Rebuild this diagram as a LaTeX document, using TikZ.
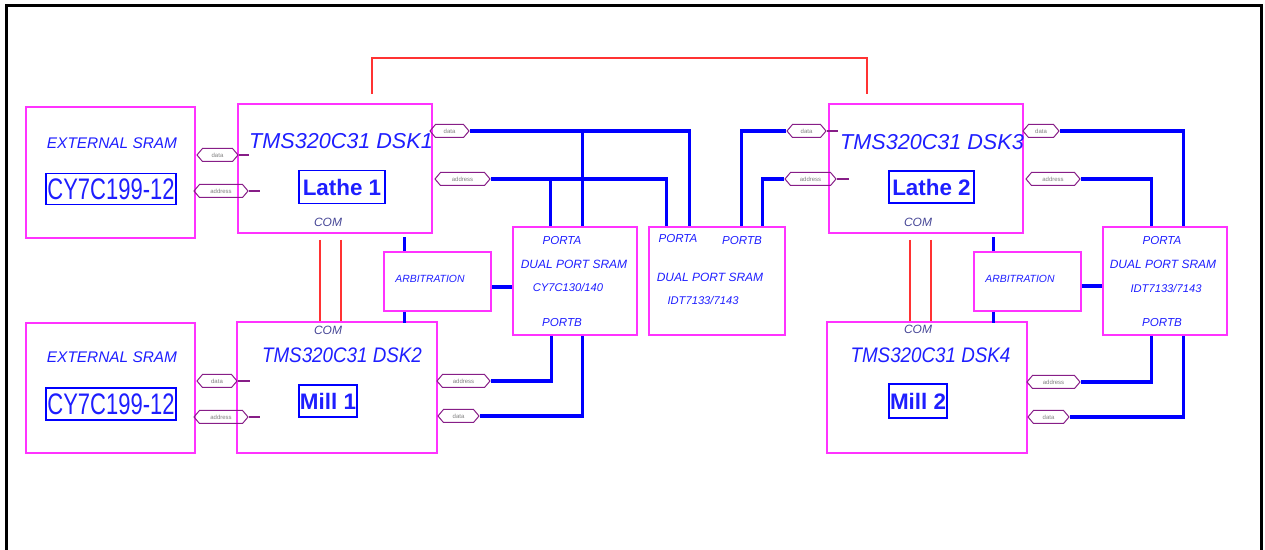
\documentclass[tikz,border=0pt]{standalone}
\usepackage{fontspec}
\setmainfont{Liberation Sans}
\usetikzlibrary{shapes.symbols,calc}
\definecolor{rosa}{RGB}{255,51,255}
\definecolor{azul}{RGB}{0,0,255}
\definecolor{azultx}{RGB}{30,30,255}
\definecolor{morado}{RGB}{135,30,135}
\definecolor{rojo}{RGB}{255,50,50}
\definecolor{gristx}{RGB}{70,70,150}
\newcommand{\fs}[1]{\fontsize{#1}{#1}\selectfont}
\begin{document}
\begin{tikzpicture}[x=0.5pt,y=-0.5pt,
	caja/.style={draw=rosa,line width=0.8pt,inner sep=0pt},
	texto/.style={text=azultx,inner sep=0pt},
	marco/.style={draw=azul,line width=0.7pt,text=azultx,inner sep=0pt},
	puerto/.style={text=azultx,inner sep=0pt,font=\fs{5.8}\itshape},
	comtx/.style={text=gristx,inner sep=0pt,font=\fs{6}\itshape},
	etiq/.style={shape=signal,signal to=west and east,signal pointer angle=100,draw=morado,line width=0.5pt,inner sep=0pt,minimum height=6.5pt,text=gray,font=\fs{3}},
	stub/.style={morado,line width=0.6pt},
	bus/.style={azul,line width=1.65pt},
	enlace/.style={rojo,line width=0.8pt}]
	\useasboundingbox (0,0) rectangle (1265,550);
	%Marco
	\draw[line width=1.5pt] (6.5,550) -- (6.5,6) -- (1261,6) -- (1261,550);
	
	%Memorias externas
	\node[caja,minimum width=84.5pt,minimum height=65.5pt] (sramA) at (110.5,172.5) {};
	\node[texto,font=\fs{7.7}\itshape] (sramAt) at (112,143) {EXTERNAL SRAM};
	\node[marco,font=\fs{11},minimum width=65pt,minimum height=15.5pt] (sramAc) at (111,189) {\scalebox{1}[1.35]{CY7C199-12}};
	\node[caja,minimum width=84.5pt,minimum height=65pt] (sramB) at (110.5,388) {};
	\node[texto,font=\fs{7.7}\itshape] (sramBt) at (112,357) {EXTERNAL SRAM};
	\node[marco,font=\fs{11},minimum width=65pt,minimum height=16pt] (sramBc) at (111,404) {\scalebox{1}[1.35]{CY7C199-12}};
	
	%Tarjetas DSK
	\node[caja,minimum width=97pt,minimum height=64.5pt] (dskA) at (335,168.5) {};
	\node[texto,font=\fs{10.8}\itshape] (dskAt) at (341,141) {TMS320C31 DSK1};
	\node[marco,font=\fs{11.2}\bfseries,minimum width=43pt,minimum height=16.5pt] (dskAn) at (342,187) {Lathe 1};
	\node[comtx] (dskAc) at (328,222) {COM};
	\node[caja,minimum width=100pt,minimum height=65.5pt] (dskB) at (337,387.5) {};
	\node[comtx] (dskBc) at (328,330) {COM};
	\node[texto,font=\fs{9.4}\itshape] (dskBt) at (342,355) {\scalebox{1}[1.12]{TMS320C31 DSK2}};
	\node[marco,font=\fs{11.2}\bfseries,minimum width=29pt,minimum height=16pt] (dskBn) at (328,401) {Mill 1};
	\node[caja,minimum width=97pt,minimum height=64.5pt] (dskC) at (926,168.5) {};
	\node[texto,font=\fs{10.8}\itshape] (dskCt) at (932,142) {TMS320C31 DSK3};
	\node[marco,font=\fs{11.2}\bfseries,minimum width=42.5pt,minimum height=16pt] (dskCn) at (931.5,187) {Lathe 2};
	\node[comtx] (dskCc) at (918,222) {COM};
	\node[caja,minimum width=100pt,minimum height=65.5pt] (dskD) at (927,387.5) {};
	\node[comtx] (dskDc) at (918,329) {COM};
	\node[texto,font=\fs{9.4}\itshape] (dskDt) at (930.5,355) {\scalebox{1}[1.12]{TMS320C31 DSK4}};
	\node[marco,font=\fs{11.2}\bfseries,minimum width=29pt,minimum height=17pt] (dskDn) at (918,401) {Mill 2};
	
	%Arbitraje
	\node[caja,minimum width=53.5pt,minimum height=29.5pt] (arbA) at (437.5,281.5) {};
	\node[texto,font=\fs{5.2}\itshape] (arbAt) at (430,279) {ARBITRATION};
	\node[caja,minimum width=53.5pt,minimum height=29.5pt] (arbB) at (1027.5,281.5) {};
	\node[texto,font=\fs{5.2}\itshape] (arbBt) at (1020,279) {ARBITRATION};
	
	%Memorias de doble puerto
	\node[caja,minimum width=62pt,minimum height=54pt] (dpA) at (575,281) {};
	\node[puerto] (dpApa) at (562,241) {PORTA};
	\node[puerto,font=\fs{6}\itshape] (dpAt) at (574,264) {DUAL PORT SRAM};
	\node[puerto,font=\fs{5.6}\itshape] (dpAm) at (568,288) {CY7C130/140};
	\node[puerto] (dpApb) at (562,323) {PORTB};
	\node[caja,minimum width=68pt,minimum height=54pt] (dpM) at (717,281) {};
	\node[puerto] (dpMpa) at (678,239) {PORTA};
	\node[puerto] (dpMpb) at (742,241) {PORTB};
	\node[puerto,font=\fs{6}\itshape] (dpMt) at (710,277) {DUAL PORT SRAM};
	\node[puerto,font=\fs{5.6}\itshape] (dpMm) at (703,300) {IDT7133/7143};
	\node[caja,minimum width=62pt,minimum height=54pt] (dpB) at (1165,281) {};
	\node[puerto] (dpBpa) at (1162,241) {PORTA};
	\node[puerto,font=\fs{6}\itshape] (dpBt) at (1163,264) {DUAL PORT SRAM};
	\node[puerto,font=\fs{5.6}\itshape] (dpBm) at (1166,289) {IDT7133/7143};
	\node[puerto] (dpBpb) at (1162,323) {PORTB};
	
	%Etiquetas de senales
	\node[etiq,minimum width=20.5pt] (dAl) at (217.5,155) {data};
	\node[etiq,minimum width=27pt] (aAl) at (221,191) {address};
	\node[etiq,minimum width=19.5pt] (dAr) at (449.5,131) {data};
	\node[etiq,minimum width=27.5pt] (aAr) at (462.5,179) {address};
	\node[etiq,minimum width=20pt] (dBl) at (217,381) {data};
	\node[etiq,minimum width=27pt] (aBl) at (221,417) {address};
	\node[etiq,minimum width=26.5pt] (aBr) at (463.5,381) {address};
	\node[etiq,minimum width=20.5pt] (dBr) at (458.5,416) {data};
	\node[etiq,minimum width=19.5pt] (dCl) at (806.5,131) {data};
	\node[etiq,minimum width=25.5pt] (aCl) at (810.5,179) {address};
	\node[etiq,minimum width=18pt] (dCr) at (1041,131) {data};
	\node[etiq,minimum width=27pt] (aCr) at (1053,179) {address};
	\node[etiq,minimum width=26.5pt] (aDr) at (1053.5,382) {address};
	\node[etiq,minimum width=20.5pt] (dDr) at (1048.5,417) {data};
	\draw[stub] (dAl.east) -- ++(10,0);
	\draw[stub] (aAl.east) -- ++(11,0);
	\draw[stub] (dBl.east) -- ++(12,0);
	\draw[stub] (aBl.east) -- ++(11,0);
	\draw[stub] (dCl.east) -- ++(11,0);
	\draw[stub] (aCl.east) -- ++(12,0);
	
	%Buses
	\draw[bus] (dAr.east) -| ($(dpM.north west)+(41,0)$);
	\draw[bus] ($(dpA.north west)+(70,0)$) |- (dAr.east);
	\draw[bus] (aAr.east) -| ($(dpM.north west)+(18,0)$);
	\draw[bus] ($(dpA.north west)+(38,0)$) |- (aAr.east);
	\draw[bus] (dCl.west) -| ($(dpM.north west)+(93,0)$);
	\draw[bus] (aCl.west) -| ($(dpM.north west)+(114,0)$);
	\draw[bus] (dCr.east) -| ($(dpB.north west)+(81,0)$);
	\draw[bus] (aCr.east) -| ($(dpB.north west)+(49,0)$);
	\draw[bus] (aBr.east) -| ($(dpA.south west)+(39,0)$);
	\draw[bus] (dBr.east) -| ($(dpA.south west)+(70,0)$);
	\draw[bus] (aDr.east) -| ($(dpB.south west)+(49,0)$);
	\draw[bus] (dDr.east) -| ($(dpB.south west)+(81,0)$);
	\draw[bus] ($(arbA.north west)+(21,0)$) -- ++(0,-14);
	\draw[bus] ($(arbA.south west)+(21,0)$) -- ++(0,11);
	\draw[bus] ([yshift=-2.75pt]arbA.east) -- ([yshift=-2.75pt]arbA.east -| dpA.west);
	\draw[bus] ($(arbB.north west)+(20,0)$) -- ++(0,-14);
	\draw[bus] ($(arbB.south west)+(20,0)$) -- ++(0,11);
	\draw[bus] ([yshift=-2.25pt]arbB.east) -- ([yshift=-2.25pt]arbB.east -| dpB.west);
	
	%Enlaces COM
	\draw[enlace] ($(dskA.south west)+(83,6)$) coordinate (cA1) -- (cA1 |- dskB.north);
	\draw[enlace] ($(dskA.south west)+(104,6)$) coordinate (cA2) -- (cA2 |- dskB.north);
	\draw[enlace] ($(dskC.south west)+(82,6)$) coordinate (cC1) -- (cC1 |- dskD.north);
	\draw[enlace] ($(dskC.south west)+(103,6)$) coordinate (cC2) -- (cC2 |- dskD.north);
	\draw[enlace,line width=1.1pt] ($(dskA.north west)+(135,-9)$) -- ++(0,-36) -| ($(dskC.north west)+(39,-9)$);
\end{tikzpicture}
\end{document}
